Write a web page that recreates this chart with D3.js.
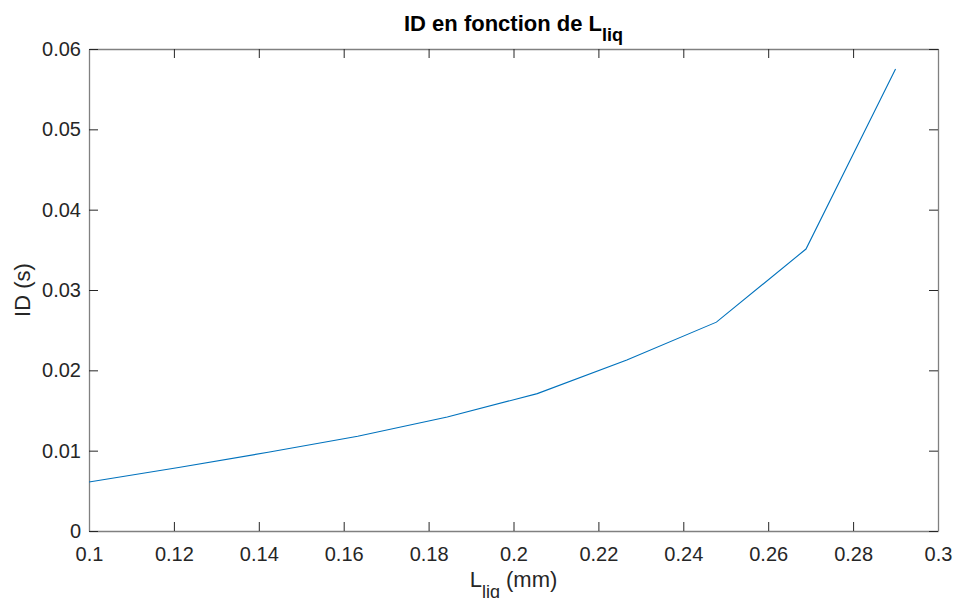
<!DOCTYPE html>
<html>
<head>
<meta charset="utf-8">
<script src="https://cdn.jsdelivr.net/npm/d3@7"></script>
<style>
  html, body { margin: 0; padding: 0; background: #fff; }
  svg { display: block; font-family: "Liberation Sans", Arial, Helvetica, sans-serif; }
</style>
</head>
<body>
<svg id="chart" width="954" height="598"></svg>
<script>
// Data
const lliq = [0.1, 0.1211, 0.1422, 0.1633, 0.1844, 0.2056, 0.2267, 0.2478, 0.2689, 0.29];
const idValues = [0.0061, 0.0079, 0.0098, 0.0118, 0.0142, 0.0171, 0.0213, 0.0260, 0.0351, 0.0575];
const xTicks = [0.1, 0.12, 0.14, 0.16, 0.18, 0.2, 0.22, 0.24, 0.26, 0.28, 0.3];
const yTicks = [0, 0.01, 0.02, 0.03, 0.04, 0.05, 0.06];
const xTickLabels = ["0.1", "0.12", "0.14", "0.16", "0.18", "0.2", "0.22", "0.24", "0.26", "0.28", "0.3"];
const yTickLabels = ["0", "0.01", "0.02", "0.03", "0.04", "0.05", "0.06"];

const svg = d3.select("#chart");
const m = { left: 89, right: 938, top: 49, bottom: 531 };
const x = d3.scaleLinear().domain([0.1, 0.3]).range([m.left, m.right]);
const y = d3.scaleLinear().domain([0, 0.06]).range([m.bottom, m.top]);
const tickLen = 9;
const tickColor = "#262626";
const frameColor = "#808080";
const fs = 20;

// Bottom axis
const gx = svg.append("g").attr("transform", `translate(0,${m.bottom})`)
  .call(d3.axisBottom(x).tickValues(xTicks).tickFormat((d, i) => xTickLabels[i]).tickSizeInner(-tickLen).tickSizeOuter(0).tickPadding(15.5));
// Top axis (ticks only)
const gxt = svg.append("g").attr("transform", `translate(0,${m.top})`)
  .call(d3.axisTop(x).tickValues(xTicks).tickFormat("").tickSizeInner(-tickLen).tickSizeOuter(0));
// Left axis
const gy = svg.append("g").attr("transform", `translate(${m.left},0)`)
  .call(d3.axisLeft(y).tickValues(yTicks).tickFormat((d, i) => yTickLabels[i]).tickSizeInner(-tickLen).tickSizeOuter(0).tickPadding(8));
// Right axis (ticks only)
const gyr = svg.append("g").attr("transform", `translate(${m.right},0)`)
  .call(d3.axisRight(y).tickValues(yTicks).tickFormat("").tickSizeInner(-tickLen).tickSizeOuter(0));

[gx, gxt, gy, gyr].forEach(g => {
  g.select(".domain").attr("stroke", frameColor).attr("stroke-width", 1.3);
  g.selectAll(".tick line").attr("stroke", tickColor).attr("stroke-width", 1);
  g.selectAll(".tick text").attr("fill", "#262626").attr("font-size", fs)
    .attr("font-family", "Liberation Sans, Arial, sans-serif");
});

// Data line
const line = d3.line().x((d, i) => x(lliq[i])).y(d => y(d));
svg.append("path").datum(idValues)
  .attr("d", line)
  .attr("fill", "none")
  .attr("stroke", "#0072BD")
  .attr("stroke-width", 1.1);

// Title
const title = svg.append("text")
  .attr("x", (m.left + m.right) / 2).attr("y", 31)
  .attr("text-anchor", "middle").attr("font-weight", "bold").attr("font-size", 22).attr("fill", "#000");
title.append("tspan").text("ID en fonction de L");
title.append("tspan").attr("dy", 10).attr("font-size", 18).text("liq");

// X label
const xl = svg.append("text")
  .attr("x", (m.left + m.right) / 2).attr("y", 587)
  .attr("text-anchor", "middle").attr("font-size", 22).attr("fill", "#262626");
xl.append("tspan").text("L");
xl.append("tspan").attr("dy", 11).attr("font-size", 18).text("liq");
xl.append("tspan").attr("dy", -11).text(" (mm)");

// Y label
svg.append("text")
  .attr("transform", `translate(30,${(m.top + m.bottom) / 2}) rotate(-90)`)
  .attr("text-anchor", "middle").attr("font-size", 22).attr("fill", "#262626")
  .text("ID (s)");
</script>
</body>
</html>
